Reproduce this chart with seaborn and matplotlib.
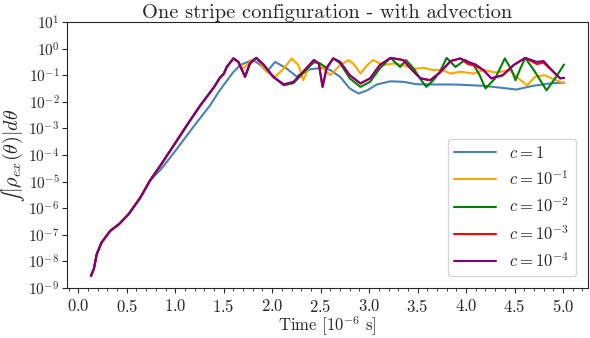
import numpy as np
import pandas as pd
import matplotlib
matplotlib.use("Agg")
import matplotlib.pyplot as plt
import seaborn as sns
from matplotlib.ticker import LogLocator, NullLocator, MultipleLocator

# values; y given as log10 of the integral
ramp_t = [0.13, 0.16, 0.19, 0.24, 0.33, 0.42, 0.52, 0.64, 0.74]
ramp_log = [-8.55, -8.29, -7.73, -7.29, -6.85, -6.60, -6.22, -5.60, -4.96]

t_c1 = ramp_t + [0.85, 1.0, 1.2, 1.36, 1.45, 1.53, 1.60, 1.67, 1.80, 1.88, 1.945, 2.03,
                 2.15, 2.25, 2.39, 2.53, 2.60, 2.70, 2.80, 2.89, 2.98, 3.08, 3.22, 3.35,
                 3.49, 3.63, 3.84, 3.94, 4.18, 4.38, 4.52, 4.69, 4.87, 5.01]
log_c1 = ramp_log + [-4.55, -3.85, -2.88, -2.13, -1.62, -1.22, -0.88, -0.62, -0.42, -0.62,
                     -0.87, -0.50, -0.75, -1.05, -0.78, -0.72, -0.81, -1.06, -1.50, -1.69,
                     -1.57, -1.35, -1.23, -1.25, -1.34, -1.35, -1.35, -1.36, -1.40, -1.48,
                     -1.54, -1.40, -1.31, -1.28]

t_c2 = ramp_t + [0.85, 1.0, 1.15, 1.26, 1.40, 1.46, 1.50, 1.53, 1.60, 1.65, 1.70, 1.77,
                 1.835, 1.945, 2.03, 2.12, 2.20, 2.27, 2.32, 2.39, 2.46, 2.53, 2.60, 2.70,
                 2.79, 2.85, 2.91, 2.98, 3.04, 3.15, 3.25, 3.35, 3.46, 3.56, 3.66, 3.75,
                 3.84, 3.94, 4.08, 4.18, 4.31, 4.45, 4.54, 4.63, 4.71, 4.81, 4.93, 5.01]
log_c2 = ramp_log + [-4.38, -3.55, -2.72, -2.13, -1.45, -1.10, -0.95, -0.70, -0.37, -0.50,
                     -0.75, -0.50, -0.35, -0.87, -1.06, -0.75, -0.37, -0.62, -1.19, -0.62,
                     -0.50, -0.75, -1.00, -0.62, -0.43, -0.62, -0.94, -0.62, -0.43, -0.62,
                     -0.56, -0.62, -0.77, -0.72, -0.81, -0.80, -0.94, -0.87, -0.94, -0.81,
                     -0.90, -0.81, -1.12, -1.38, -1.06, -1.00, -1.19, -1.31]

t_c3 = ramp_t + [0.85, 1.0, 1.15, 1.26, 1.40, 1.46, 1.50, 1.53, 1.60, 1.65, 1.72, 1.77,
                 1.835, 1.91, 2.01, 2.12, 2.22, 2.32, 2.43, 2.49, 2.56, 2.63, 2.70, 2.80,
                 2.91, 3.01, 3.11, 3.22, 3.32, 3.38, 3.46, 3.52, 3.59, 3.66, 3.73, 3.80,
                 3.89, 3.99, 4.08, 4.14, 4.20, 4.30, 4.40, 4.47, 4.51, 4.56, 4.61, 4.71,
                 4.83, 4.93, 5.01]
log_c3 = ramp_log + [-4.38, -3.55, -2.72, -2.13, -1.45, -1.10, -0.95, -0.70, -0.37, -0.50,
                     -1.06, -0.56, -0.35, -0.60, -1.06, -1.38, -1.30, -0.92, -0.50, -0.55,
                     -0.72, -0.37, -0.55, -1.12, -1.44, -1.25, -0.75, -0.35, -0.69, -0.43,
                     -0.75, -1.10, -1.44, -1.20, -0.87, -0.35, -0.69, -0.43, -0.62, -1.00,
                     -1.50, -1.12, -0.37, -0.81, -1.19, -0.75, -0.35, -0.87, -1.57, -1.06,
                     -0.60]

t_c4 = ramp_t + [0.85, 1.0, 1.15, 1.26, 1.40, 1.46, 1.50, 1.53, 1.60, 1.65, 1.72, 1.77,
                 1.835, 1.91, 2.01, 2.12, 2.22, 2.32, 2.43, 2.48, 2.52, 2.56, 2.63, 2.70,
                 2.80, 2.91, 3.01, 3.11, 3.22, 3.35, 3.46, 3.53, 3.63, 3.73, 3.84, 3.94,
                 4.02, 4.10, 4.18, 4.26, 4.38, 4.49, 4.61, 4.73, 4.80, 4.90, 4.97, 5.01]
log_c4 = ramp_log + [-4.38, -3.55, -2.72, -2.13, -1.45, -1.10, -0.95, -0.70, -0.37, -0.50,
                     -1.06, -0.56, -0.35, -0.60, -1.06, -1.35, -1.25, -0.87, -0.43, -0.56,
                     -1.44, -0.75, -0.37, -0.50, -1.00, -1.31, -1.12, -0.62, -0.35, -0.43,
                     -0.87, -1.12, -1.19, -0.90, -0.47, -0.37, -0.58, -0.66, -0.81, -1.12,
                     -1.00, -0.62, -0.35, -0.58, -0.53, -0.87, -1.12, -1.10]

t_c5 = ramp_t + [0.85, 1.0, 1.15, 1.26, 1.40, 1.46, 1.50, 1.53, 1.60, 1.65, 1.72, 1.77,
                 1.835, 1.91, 2.01, 2.12, 2.22, 2.32, 2.43, 2.48, 2.52, 2.56, 2.63, 2.70,
                 2.80, 2.91, 3.01, 3.11, 3.22, 3.35, 3.46, 3.53, 3.63, 3.73, 3.84, 3.94,
                 4.02, 4.10, 4.18, 4.26, 4.38, 4.49, 4.61, 4.73, 4.80, 4.90, 4.97, 5.01]
log_c5 = ramp_log + [-4.38, -3.55, -2.72, -2.13, -1.45, -1.10, -0.95, -0.70, -0.37, -0.50,
                     -1.06, -0.56, -0.35, -0.60, -1.06, -1.35, -1.25, -0.87, -0.43, -0.56,
                     -1.44, -0.75, -0.37, -0.50, -1.00, -1.31, -1.12, -0.62, -0.35, -0.43,
                     -0.87, -1.12, -1.19, -0.90, -0.47, -0.37, -0.50, -0.60, -0.81, -1.12,
                     -1.00, -0.62, -0.35, -0.50, -0.47, -0.87, -1.12, -1.10]

labels = [r"$c = 1$", r"$c = 10^{-1}$", r"$c = 10^{-2}$", r"$c = 10^{-3}$", r"$c = 10^{-4}$"]
colors = ["steelblue", "orange", "green", "red", "purple"]
series = [(t_c1, log_c1), (t_c2, log_c2), (t_c3, log_c3), (t_c4, log_c4), (t_c5, log_c5)]

sns.set_style("ticks")
plt.rcParams["font.family"] = ["cmr10"]
plt.rcParams["mathtext.fontset"] = "cm"
plt.rcParams["axes.formatter.use_mathtext"] = True
plt.rcParams["axes.unicode_minus"] = False

fig, ax = plt.subplots(figsize=(5.9, 3.38), dpi=100)
fig.subplots_adjust(left=0.114, right=0.996, bottom=0.148, top=0.935)

for (t, lg), lab, col in zip(series, labels, colors):
    df = pd.DataFrame({"t": t, "val": 10.0 ** np.array(lg)})
    sns.lineplot(data=df, x="t", y="val", ax=ax, color=col, label=lab, lw=1.5, sort=False)

ax.set_yscale("log")
ax.set_ylim(1e-9, 1e1)
ax.yaxis.set_major_locator(LogLocator(base=10, numticks=20))
ax.yaxis.set_minor_locator(NullLocator())
ax.xaxis.set_major_locator(MultipleLocator(0.5))
ax.xaxis.set_minor_locator(MultipleLocator(0.1))
ax.tick_params(axis="x", labelsize=12)
ax.tick_params(axis="y", labelsize=11, pad=2)

ax.set_title("One stripe configuration - with advection", fontsize=14.7, pad=3)
ax.set_xlabel(r"Time [$10^{-6}$ s]", fontsize=12, labelpad=0)
ax.set_ylabel("$\u222b|\\rho_{ex}(\\theta)|d\\theta$", fontsize=14.5)
ax.yaxis.set_label_coords(-0.078, 0.5)
ax.legend(loc="lower right", fontsize=12, handlelength=2.5, borderaxespad=0.7)

fig.savefig("out.png", dpi=100)
